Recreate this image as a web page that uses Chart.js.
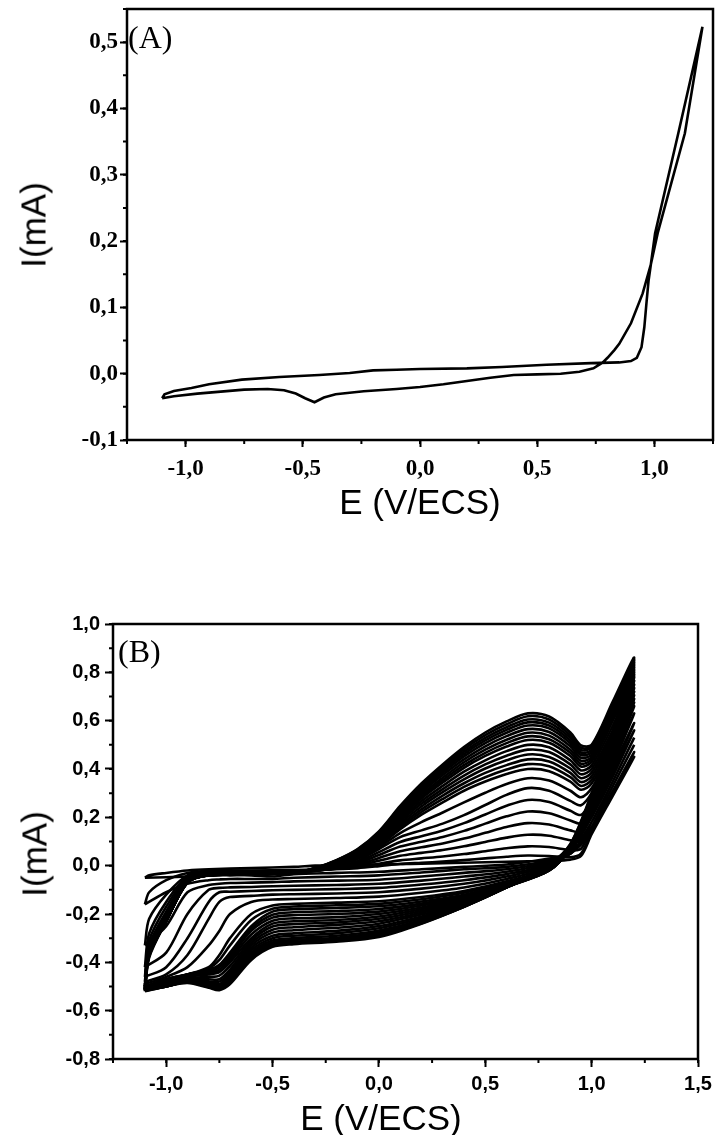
<!DOCTYPE html>
<html>
<head>
<meta charset="utf-8">
<script src="https://cdn.jsdelivr.net/npm/chart.js@4.4.1/dist/chart.umd.min.js"></script>
<style>
  html, body { margin: 0; padding: 0; background: #fff; }
  #page { position: relative; width: 715px; height: 1135px; overflow: hidden; }
  canvas { position: absolute; left: 0; }
  .lbl { position: absolute; color: #000; white-space: nowrap; line-height: 1; }
  .axisTitle { font-family: "Liberation Sans", Arial, sans-serif; font-size: 35px; }
  .panel { font-family: "Liberation Serif", "Times New Roman", serif; font-size: 32px; }
</style>
</head>
<body>
<div id="page">
  <canvas id="cvA" width="715" height="560" style="top:0"></canvas>
  <canvas id="cvB" width="715" height="575" style="top:560px"></canvas>

  <div class="lbl panel" style="left:128px; top:21px">(A)</div>
  <div class="lbl axisTitle" style="left:33px; top:225px; transform:translate(-50%,-50%) rotate(-90deg)">I(mA)</div>
  <div class="lbl axisTitle" style="left:420px; top:501px; transform:translate(-50%,-50%)">E (V/ECS)</div>

  <div class="lbl panel" style="left:118px; top:635px">(B)</div>
  <div class="lbl axisTitle" style="left:34px; top:854px; transform:translate(-50%,-50%) rotate(-90deg)">I(mA)</div>
  <div class="lbl axisTitle" style="left:381px; top:1117px; transform:translate(-50%,-50%)">E (V/ECS)</div>
</div>

<script>
// tick positions of the two panels
const ticksAX = [-1.0, -0.5, 0.0, 0.5, 1.0];
const ticksAY = [-0.1, 0.0, 0.1, 0.2, 0.3, 0.4, 0.5];
const ticksBX = [-1.0, -0.5, 0.0, 0.5, 1.0, 1.5];
const ticksBY = [-0.8, -0.6, -0.4, -0.2, 0.0, 0.2, 0.4, 0.6, 0.8, 1.0];

// ---- (A) one cycle: anodic scan -1,1 -> 1,2 V then cathodic scan back ----
const cvAPotential = [
  // forward
  -1.10, -1.09, -1.05, -0.975, -0.90, -0.76, -0.60, -0.43, -0.30, -0.20, -0.10, 0.00,
  0.20, 0.35, 0.54, 0.73, 0.85, 0.90, 0.925, 0.945, 0.957, 0.967, 0.975, 0.985, 1.003, 1.102, 1.205,
  // reverse
  1.13, 1.014, 0.985, 0.95, 0.90, 0.85, 0.83, 0.80, 0.78, 0.74, 0.68, 0.60, 0.50, 0.40,
  0.30, 0.20, 0.10, 0.00, -0.10, -0.24, -0.36, -0.41, -0.45, -0.49, -0.53, -0.58, -0.65,
  -0.75, -0.85, -0.95, -1.05, -1.10
];
const cvACurrent = [
  -0.037, -0.031, -0.026, -0.0215, -0.016, -0.009, -0.005, -0.002, 0.001, 0.005, 0.006, 0.007,
  0.008, 0.010, 0.0135, 0.016, 0.017, 0.019, 0.024, 0.040, 0.070, 0.110, 0.140, 0.165, 0.212, 0.3625, 0.523,
  0.3625, 0.212, 0.165, 0.121, 0.076, 0.045, 0.036, 0.024, 0.017, 0.008, 0.003, 0.000, -0.001, -0.002,
  -0.006, -0.011, -0.016, -0.020, -0.023, -0.0265, -0.031, -0.036, -0.043, -0.037, -0.030, -0.025, -0.023,
  -0.024, -0.027, -0.030, -0.034, -0.037
];

// ---- (B) successive cycles, all sampled at the same potentials ----
const loopPotentialB = [
  // forward (24)
  -1.1, -1.08, -1.0, -0.9, -0.8, -0.6, -0.4, -0.3, -0.2, -0.1, 0.0, 0.1, 0.2, 0.3, 0.4, 0.5,
  0.6, 0.7, 0.8, 0.9, 0.95, 1.0, 1.1, 1.2,
  // reverse (18)
  1.1, 1.0, 0.9, 0.8, 0.6, 0.4, 0.2, 0.0, -0.2, -0.4, -0.5, -0.6, -0.7, -0.75, -0.8, -0.9, -1.0, -1.1
];
const cycle1 = [-0.05, -0.04, -0.03, -0.02, -0.015, -0.01, -0.005, 0.0, 0.002, 0.004, 0.005, 0.007, 0.008, 0.01, 0.012, 0.014, 0.016, 0.018, 0.02, 0.025, 0.04, 0.13, 0.29, 0.45,
  0.30, 0.14, 0.05, 0.03, 0.005, -0.005, -0.015, -0.025, -0.03, -0.035, -0.045, -0.04, -0.04, -0.04, -0.042, -0.045, -0.048, -0.05];
const cycle2 = [-0.16, -0.11, -0.06, -0.03, -0.022, -0.02, -0.018, -0.016, -0.014, -0.01, -0.002, 0.007, 0.012, 0.017, 0.023, 0.03, 0.037, 0.042, 0.04, 0.035, 0.05, 0.14, 0.30, 0.47,
  0.31, 0.15, 0.05, 0.02, -0.005, -0.015, -0.028, -0.04, -0.045, -0.05, -0.055, -0.055, -0.055, -0.057, -0.06, -0.075, -0.11, -0.16];
const cycle3 = [-0.33, -0.22, -0.12, -0.04, -0.025, -0.022, -0.02, -0.018, -0.014, -0.006, 0.008, 0.022, 0.03, 0.038, 0.048, 0.06, 0.072, 0.08, 0.077, 0.065, 0.07, 0.16, 0.33, 0.50,
  0.33, 0.16, 0.05, 0.015, -0.015, -0.03, -0.045, -0.058, -0.062, -0.065, -0.068, -0.07, -0.072, -0.075, -0.08, -0.11, -0.25, -0.33];
const cycle4 = [-0.42, -0.28, -0.15, -0.045, -0.028, -0.024, -0.022, -0.019, -0.013, 0.0, 0.02, 0.041, 0.053, 0.065, 0.08, 0.098, 0.116, 0.128, 0.124, 0.105, 0.10, 0.18, 0.35, 0.53,
  0.35, 0.18, 0.055, 0.01, -0.025, -0.045, -0.062, -0.075, -0.08, -0.083, -0.085, -0.088, -0.09, -0.092, -0.10, -0.20, -0.36, -0.42];
const cycle5 = [-0.46, -0.31, -0.17, -0.05, -0.03, -0.026, -0.024, -0.02, -0.012, 0.004, 0.032, 0.06, 0.076, 0.092, 0.112, 0.136, 0.16, 0.176, 0.17, 0.146, 0.14, 0.21, 0.38, 0.56,
  0.37, 0.20, 0.06, 0.005, -0.035, -0.06, -0.078, -0.092, -0.097, -0.10, -0.102, -0.105, -0.108, -0.11, -0.15, -0.30, -0.42, -0.46];
const cycle6 = [-0.48, -0.33, -0.19, -0.055, -0.032, -0.028, -0.026, -0.021, -0.011, 0.009, 0.044, 0.079, 0.099, 0.119, 0.144, 0.174, 0.204, 0.224, 0.217, 0.187, 0.175, 0.24, 0.41, 0.59,
  0.39, 0.21, 0.065, 0.0, -0.045, -0.075, -0.095, -0.11, -0.115, -0.118, -0.12, -0.125, -0.13, -0.15, -0.22, -0.37, -0.45, -0.48];
const cycle7 = [-0.49, -0.34, -0.20, -0.06, -0.034, -0.03, -0.028, -0.022, -0.01, 0.014, 0.056, 0.098, 0.122, 0.146, 0.176, 0.212, 0.248, 0.272, 0.263, 0.227, 0.21, 0.27, 0.44, 0.63,
  0.42, 0.22, 0.07, -0.005, -0.055, -0.09, -0.112, -0.128, -0.134, -0.138, -0.14, -0.15, -0.20, -0.27, -0.33, -0.42, -0.46, -0.49];
const cycle8 = [-0.50, -0.35, -0.21, -0.062, -0.035, -0.031, -0.029, -0.022, -0.008, 0.02, 0.069, 0.118, 0.146, 0.174, 0.209, 0.251, 0.293, 0.321, 0.31, 0.268, 0.25, 0.30, 0.47, 0.66,
  0.44, 0.23, 0.07, -0.01, -0.065, -0.105, -0.13, -0.147, -0.153, -0.158, -0.165, -0.20, -0.30, -0.37, -0.42, -0.45, -0.47, -0.50];
const cycle9 = [-0.50, -0.35, -0.215, -0.063, -0.035, -0.031, -0.03, -0.02, -0.002, 0.028, 0.076, 0.135, 0.18, 0.22, 0.262, 0.302, 0.338, 0.362, 0.352, 0.31, 0.283, 0.32, 0.485, 0.675,
  0.45, 0.235, 0.07, -0.012, -0.07, -0.112, -0.139, -0.158, -0.164, -0.169, -0.178, -0.225, -0.33, -0.39, -0.425, -0.45, -0.47, -0.50];
const cycle10 = [-0.50, -0.35, -0.22, -0.065, -0.036, -0.032, -0.03, -0.017, 0.004, 0.035, 0.082, 0.151, 0.211, 0.262, 0.31, 0.348, 0.379, 0.40, 0.391, 0.348, 0.314, 0.34, 0.50, 0.69,
  0.46, 0.24, 0.07, -0.015, -0.075, -0.12, -0.148, -0.168, -0.175, -0.18, -0.19, -0.25, -0.36, -0.41, -0.43, -0.45, -0.47, -0.50];
const cycle11 = [-0.50, -0.35, -0.22, -0.065, -0.036, -0.032, -0.03, -0.016, 0.006, 0.038, 0.087, 0.159, 0.222, 0.276, 0.326, 0.366, 0.398, 0.42, 0.411, 0.366, 0.33, 0.355, 0.515, 0.705,
  0.47, 0.245, 0.072, -0.018, -0.078, -0.125, -0.157, -0.179, -0.188, -0.193, -0.203, -0.26, -0.37, -0.415, -0.435, -0.45, -0.475, -0.50];
const cycle12 = [-0.50, -0.35, -0.22, -0.066, -0.037, -0.033, -0.03, -0.016, 0.008, 0.04, 0.092, 0.167, 0.233, 0.29, 0.341, 0.384, 0.416, 0.44, 0.431, 0.384, 0.346, 0.37, 0.53, 0.72,
  0.48, 0.25, 0.075, -0.02, -0.08, -0.13, -0.165, -0.19, -0.20, -0.205, -0.215, -0.27, -0.38, -0.42, -0.44, -0.45, -0.48, -0.50];
const cycle13 = [-0.505, -0.355, -0.225, -0.066, -0.037, -0.033, -0.03, -0.015, 0.01, 0.044, 0.098, 0.176, 0.245, 0.304, 0.357, 0.402, 0.436, 0.46, 0.45, 0.402, 0.362, 0.385, 0.545, 0.735,
  0.49, 0.255, 0.075, -0.02, -0.083, -0.135, -0.173, -0.20, -0.213, -0.218, -0.228, -0.285, -0.39, -0.43, -0.445, -0.455, -0.48, -0.505];
const cycle14 = [-0.51, -0.36, -0.23, -0.067, -0.038, -0.034, -0.03, -0.015, 0.011, 0.047, 0.103, 0.184, 0.256, 0.317, 0.373, 0.419, 0.455, 0.48, 0.47, 0.419, 0.378, 0.40, 0.56, 0.75,
  0.50, 0.26, 0.075, -0.02, -0.085, -0.14, -0.18, -0.21, -0.225, -0.23, -0.24, -0.30, -0.40, -0.44, -0.45, -0.46, -0.48, -0.51];
const cycle15 = [-0.51, -0.36, -0.23, -0.067, -0.038, -0.034, -0.03, -0.014, 0.012, 0.05, 0.108, 0.192, 0.267, 0.33, 0.389, 0.436, 0.474, 0.50, 0.49, 0.436, 0.394, 0.415, 0.58, 0.765,
  0.51, 0.265, 0.078, -0.02, -0.086, -0.145, -0.188, -0.22, -0.235, -0.242, -0.252, -0.31, -0.415, -0.455, -0.46, -0.465, -0.485, -0.51];
const cycle16 = [-0.51, -0.36, -0.23, -0.068, -0.038, -0.034, -0.03, -0.014, 0.014, 0.053, 0.113, 0.201, 0.278, 0.344, 0.405, 0.454, 0.493, 0.52, 0.509, 0.454, 0.41, 0.43, 0.60, 0.78,
  0.52, 0.27, 0.08, -0.02, -0.088, -0.15, -0.195, -0.23, -0.245, -0.255, -0.265, -0.32, -0.43, -0.47, -0.47, -0.47, -0.49, -0.51];
const cycle17 = [-0.51, -0.36, -0.23, -0.068, -0.038, -0.034, -0.03, -0.013, 0.015, 0.055, 0.117, 0.207, 0.286, 0.354, 0.416, 0.467, 0.507, 0.535, 0.523, 0.467, 0.422, 0.44, 0.61, 0.79,
  0.525, 0.275, 0.08, -0.015, -0.089, -0.155, -0.202, -0.24, -0.257, -0.267, -0.277, -0.33, -0.44, -0.48, -0.478, -0.472, -0.492, -0.51];
const cycle18 = [-0.51, -0.36, -0.23, -0.069, -0.039, -0.035, -0.03, -0.013, 0.016, 0.057, 0.121, 0.214, 0.295, 0.364, 0.428, 0.48, 0.521, 0.55, 0.538, 0.48, 0.434, 0.45, 0.62, 0.80,
  0.53, 0.28, 0.08, -0.01, -0.09, -0.16, -0.21, -0.25, -0.27, -0.28, -0.29, -0.34, -0.45, -0.49, -0.485, -0.475, -0.495, -0.51];
const cycle19 = [-0.512, -0.365, -0.23, -0.07, -0.04, -0.035, -0.03, -0.012, 0.018, 0.06, 0.125, 0.22, 0.303, 0.375, 0.44, 0.494, 0.536, 0.565, 0.553, 0.494, 0.446, 0.46, 0.63, 0.81,
  0.535, 0.28, 0.083, -0.008, -0.09, -0.163, -0.218, -0.259, -0.28, -0.29, -0.30, -0.35, -0.46, -0.495, -0.49, -0.478, -0.498, -0.512];
const cycle20 = [-0.515, -0.37, -0.23, -0.07, -0.04, -0.035, -0.03, -0.012, 0.019, 0.062, 0.129, 0.226, 0.312, 0.385, 0.452, 0.507, 0.55, 0.58, 0.568, 0.507, 0.458, 0.47, 0.64, 0.82,
  0.54, 0.28, 0.085, -0.005, -0.09, -0.165, -0.225, -0.268, -0.29, -0.30, -0.31, -0.36, -0.47, -0.50, -0.495, -0.48, -0.50, -0.515];
const cycle21 = [-0.515, -0.37, -0.23, -0.07, -0.04, -0.035, -0.03, -0.011, 0.02, 0.064, 0.132, 0.232, 0.319, 0.394, 0.462, 0.518, 0.562, 0.593, 0.58, 0.518, 0.468, 0.48, 0.65, 0.83,
  0.545, 0.285, 0.085, -0.002, -0.09, -0.168, -0.23, -0.276, -0.298, -0.308, -0.318, -0.368, -0.475, -0.505, -0.498, -0.48, -0.50, -0.515];
const cycle22 = [-0.515, -0.37, -0.23, -0.07, -0.04, -0.036, -0.03, -0.011, 0.021, 0.065, 0.135, 0.237, 0.326, 0.402, 0.472, 0.529, 0.573, 0.605, 0.592, 0.529, 0.478, 0.49, 0.66, 0.84,
  0.55, 0.29, 0.085, 0.0, -0.09, -0.17, -0.235, -0.283, -0.305, -0.315, -0.325, -0.375, -0.48, -0.51, -0.50, -0.48, -0.50, -0.515];
const cycle23 = [-0.518, -0.375, -0.23, -0.07, -0.04, -0.036, -0.03, -0.01, 0.022, 0.067, 0.139, 0.242, 0.333, 0.41, 0.482, 0.54, 0.585, 0.618, 0.605, 0.54, 0.488, 0.495, 0.67, 0.85,
  0.555, 0.295, 0.088, 0.002, -0.09, -0.17, -0.238, -0.289, -0.31, -0.32, -0.33, -0.382, -0.485, -0.512, -0.502, -0.482, -0.50, -0.518];
const cycle24 = [-0.52, -0.38, -0.23, -0.07, -0.04, -0.036, -0.03, -0.01, 0.023, 0.069, 0.142, 0.247, 0.34, 0.419, 0.491, 0.551, 0.597, 0.63, 0.617, 0.551, 0.498, 0.50, 0.68, 0.86,
  0.56, 0.30, 0.09, 0.005, -0.09, -0.17, -0.24, -0.295, -0.315, -0.325, -0.336, -0.39, -0.49, -0.515, -0.505, -0.485, -0.50, -0.52];
const cyclesB = [cycle1, cycle2, cycle3, cycle4, cycle5, cycle6, cycle7, cycle8, cycle9, cycle10,
  cycle11, cycle12, cycle13, cycle14, cycle15, cycle16, cycle17, cycle18, cycle19, cycle20,
  cycle21, cycle22, cycle23, cycle24];

// comma decimal, as in the original figure
const commaLabel = (v) => (Math.abs(v) < 1e-9 ? 0 : v).toFixed(1).replace('.', ',');

// frame round the plot + small (minor) ticks between the labelled ones
const frameTicks = {
  id: 'frameTicks',
  afterDraw(chart, args, opts) {
    const { ctx, chartArea: a, scales: { x, y } } = chart;
    ctx.save();
    ctx.strokeStyle = '#000';
    ctx.lineWidth = opts.frameWidth;
    ctx.strokeRect(a.left, a.top, a.right - a.left, a.bottom - a.top);
    ctx.lineWidth = 2;
    ctx.beginPath();
    const nx = Math.round((x.max - x.min) / opts.xMinor);
    for (let i = 0; i <= nx; i++) {
      const px = x.getPixelForValue(x.min + i * opts.xMinor);
      ctx.moveTo(px, a.bottom);
      ctx.lineTo(px, a.bottom + 4);
    }
    const ny = Math.round((y.max - y.min) / opts.yMinor);
    for (let i = 0; i <= ny; i++) {
      const py = y.getPixelForValue(y.min + i * opts.yMinor);
      ctx.moveTo(a.left, py);
      ctx.lineTo(a.left - 4, py);
    }
    ctx.stroke();
    ctx.restore();
  }
};

function axis(min, max, tickValues, font, tickLen, pad, size, horizontal) {
  return {
    type: 'linear',
    min: min,
    max: max,
    afterBuildTicks: (s) => { s.ticks = tickValues.map((v) => ({ value: v })); },
    ticks: {
      autoSkip: false,
      maxRotation: 0,
      color: '#000',
      font: font,
      padding: pad,
      callback: commaLabel
    },
    grid: { drawOnChartArea: false, drawTicks: true, tickLength: tickLen, tickWidth: 2, tickColor: '#000', color: '#000' },
    border: { display: true, color: '#000', width: 2 },
    afterFit: (s) => {
      // fixed axis size, and no extra room for labels that stick out at the ends
      if (horizontal) s.height = size; else s.width = size;
      s.paddingTop = 0; s.paddingBottom = 0; s.paddingLeft = 0; s.paddingRight = 0;
    }
  };
}

function baseOptions(padding) {
  return {
    responsive: false,
    animation: false,
    events: [],
    layout: { padding: padding },
    plugins: { legend: { display: false }, tooltip: { enabled: false } }
  };
}

// ---- chart A ----
const serifBold = { family: 'Liberation Serif', weight: 'bold', size: 23 };
const optA = baseOptions({ top: 9, right: 2, left: 0, bottom: 0 });
optA.scales = {
  x: axis(-1.25, 1.25, ticksAX, serifBold, 7, 8, 120, true),
  y: axis(-0.1, 0.55, ticksAY, serifBold, 7, 2, 127, false)
};
optA.plugins.frameTicks = { frameWidth: 2.5, xMinor: 0.25, yMinor: 0.05 };

new Chart(document.getElementById('cvA'), {
  type: 'scatter',
  data: {
    datasets: [{
      data: cvAPotential.map((e, i) => ({ x: e, y: cvACurrent[i] })),
      showLine: true,
      borderColor: '#000',
      borderWidth: 2.6,
      pointRadius: 0,
      tension: 0
    }]
  },
  options: optA,
  plugins: [frameTicks]
});

// ---- chart B ----
const sansBold = { family: 'Liberation Sans', weight: 'bold', size: 20 };
const optB = baseOptions({ top: 64, right: 17, left: 0, bottom: 0 });
optB.scales = {
  x: axis(-1.25, 1.5, ticksBX, sansBold, 8, 5, 76, true),
  y: axis(-0.8, 1.0, ticksBY, sansBold, 8, 5, 113, false)
};
optB.plugins.frameTicks = { frameWidth: 2.5, xMinor: 0.25, yMinor: 0.1 };

new Chart(document.getElementById('cvB'), {
  type: 'scatter',
  data: {
    datasets: cyclesB.map((cycle) => ({
      data: cycle.map((v, i) => ({ x: loopPotentialB[i], y: v })),
      showLine: true,
      borderColor: '#000',
      borderWidth: 2.6,
      pointRadius: 0,
      tension: 0.3
    }))
  },
  options: optB,
  plugins: [frameTicks]
});
</script>
</body>
</html>
